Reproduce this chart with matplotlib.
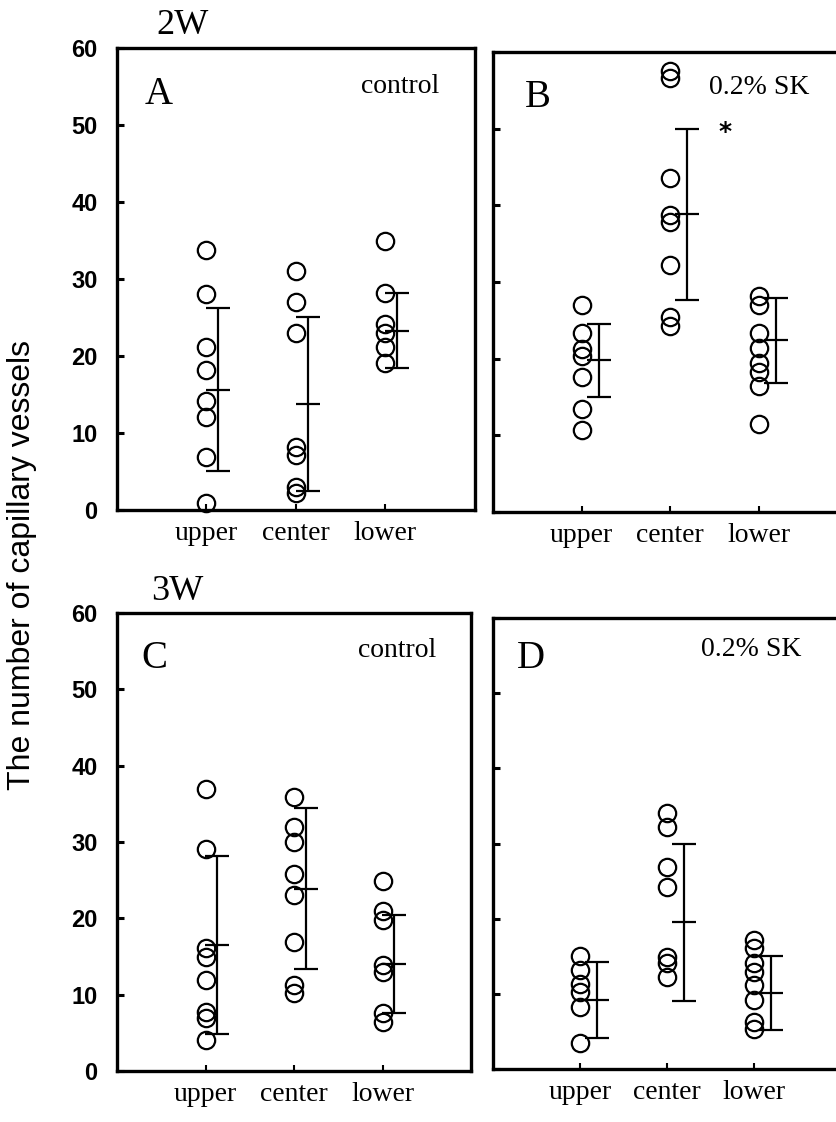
import matplotlib.pyplot as plt

groups = ['upper', 'center', 'lower']

# panel A: 2W control
a_upper = [33.8, 28.0, 21.1, 18.2, 14.1, 12.1, 6.9, 0.9]
a_center = [31.0, 27.0, 23.0, 8.2, 7.2, 3.0, 2.2]
a_lower = [34.9, 28.2, 24.2, 23.0, 21.1, 19.1]
a_mean = [15.6, 13.7, 23.3]
a_sd = [10.6, 11.3, 4.85]

# panel B: 2W 0.2% SK
b_upper = [27.0, 23.3, 21.3, 20.4, 17.6, 13.4, 10.7]
b_center = [57.5, 56.6, 43.6, 38.7, 37.8, 32.2, 25.4, 24.3]
b_lower = [28.2, 27.0, 23.3, 21.4, 19.4, 18.3, 16.4, 11.5]
b_mean = [19.8, 38.8, 22.4]
b_sd = [4.75, 11.2, 5.55]

# panel C: 3W control
c_upper = [37.0, 29.1, 16.1, 14.9, 11.9, 7.7, 6.9, 4.1]
c_center = [35.9, 32.0, 30.0, 25.8, 23.1, 16.9, 11.3, 10.2]
c_lower = [24.9, 21.0, 19.8, 13.9, 13.0, 7.6, 6.4]
c_mean = [16.5, 23.9, 14.0]
c_sd = [11.65, 10.6, 6.45]

# panel D: 3W 0.2% SK
d_upper = [15.0, 13.2, 11.3, 10.2, 8.2, 3.5]
d_center = [34.0, 32.2, 26.9, 24.2, 14.9, 14.1, 12.2]
d_lower = [17.2, 16.1, 14.1, 12.9, 11.2, 9.2, 6.3, 5.3]
d_mean = [9.2, 19.5, 10.1]
d_sd = [5.05, 10.45, 4.9]

SERIF = 'Liberation Serif'
SANS = 'Liberation Sans'


def draw_panel(ax, points, means, sds, bar_dx, letter, note, letter_xy, note_xy, left_labels):
    for i, vals in enumerate(points):
        x = i + 1
        ax.plot([x] * len(vals), vals, 'o', ms=12.5, mfc='none', mec='k', mew=1.6, clip_on=False)
        ax.errorbar(x + bar_dx, means[i], yerr=sds[i], fmt='_', ms=17, mew=1.6, color='k',
                    ecolor='k', elinewidth=1.6, capsize=8.5, capthick=1.6)
    ax.set_xlim(0, 4)
    ax.set_ylim(0, 60)
    ax.set_xticks([1, 2, 3])
    ax.set_xticklabels(groups, fontfamily=SERIF, fontsize=20)
    ax.set_yticks(range(0, 61, 10))
    ax.tick_params(axis='x', direction='in', length=4, width=1.5, pad=8)
    ax.tick_params(axis='y', direction='in', length=5, width=2.2, pad=14, labelleft=left_labels)
    for lab in ax.get_yticklabels():
        lab.set_fontfamily(SANS)
        lab.set_fontweight('bold')
        lab.set_fontsize(17)
    for sp in ax.spines.values():
        sp.set_linewidth(2.4)
    ax.text(*letter_xy, letter, transform=ax.transAxes, ha='center', va='center',
            family=SERIF, fontsize=28)
    ax.text(*note_xy, note, transform=ax.transAxes, ha='center', va='center',
            family=SERIF, fontsize=20)


fig = plt.figure(figsize=(8.36, 11.22), dpi=100)

axA = fig.add_axes([0.140, 0.5455, 0.428, 0.4118])
axB = fig.add_axes([0.590, 0.5437, 0.4234, 0.4100])
axC = fig.add_axes([0.140, 0.0455, 0.4234, 0.4082])
axD = fig.add_axes([0.590, 0.0472, 0.4163, 0.4020])

draw_panel(axA, [a_upper, a_center, a_lower], a_mean, a_sd, 0.13, 'A', 'control',
           (0.115, 0.90), (0.79, 0.916), True)
draw_panel(axB, [b_upper, b_center, b_lower], b_mean, b_sd, 0.19, 'B', '0.2% SK',
           (0.127, 0.90), (0.75, 0.922), False)
draw_panel(axC, [c_upper, c_center, c_lower], c_mean, c_sd, 0.13, 'C', 'control',
           (0.106, 0.90), (0.79, 0.917), True)
draw_panel(axD, [d_upper, d_center, d_lower], d_mean, d_sd, 0.19, 'D', '0.2% SK',
           (0.109, 0.91), (0.74, 0.93), False)

axB.text(2.62, 49.5, '*', ha='center', va='center', fontsize=18, fontweight='bold')

fig.text(183 / 836, 1 - 26 / 1122, '2W', ha='center', va='center', family=SERIF, fontsize=26)
fig.text(177 / 836, 1 - 592 / 1122, '3W', ha='center', va='center', family=SERIF, fontsize=26)
fig.text(0.026, 0.496, 'The number of capillary vessels', rotation=90, ha='center',
         va='center', family=SANS, fontsize=23)

fig.savefig('out.png', dpi=100)
